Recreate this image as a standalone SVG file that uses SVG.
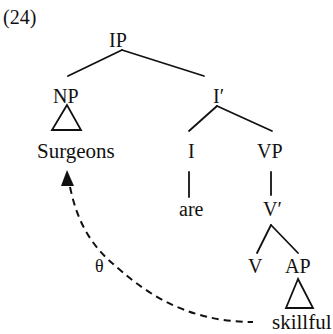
<svg xmlns="http://www.w3.org/2000/svg" width="333" height="334" viewBox="0 0 333 334">
<style>
text{font-family:Liberation Serif, DejaVu Serif, serif;fill:#111;font-size:20px}
.e{stroke:#111;stroke-width:1.8;fill:none;stroke-linecap:round}
.tri{stroke:#111;stroke-width:1.8;fill:none;stroke-linejoin:miter}
.d{stroke:#111;stroke-width:2;fill:none;stroke-dasharray:7 5}
</style>
<rect width="333" height="334" fill="#fff"/>
<text x="3" y="24">(24)</text>
<g id="connectors">
<line class="e" x1="122" y1="50" x2="68" y2="76"/>
<line class="e" x1="122" y1="50" x2="204" y2="76"/>
<line class="e" x1="217" y1="106" x2="189" y2="131"/>
<line class="e" x1="217" y1="106" x2="272" y2="131"/>
<line class="e" x1="189" y1="172" x2="189" y2="197"/>
<line class="e" x1="271" y1="172" x2="271" y2="195"/>
<line class="e" x1="271" y1="225" x2="257" y2="253"/>
<line class="e" x1="271" y1="225" x2="298" y2="253"/>
<path class="d" d="M70,187 C76,215 86,240 112,263 S180,322 253,322"/>
<polygon points="67,170 61,186 74,186" fill="#111"/>
</g>
<g id="IP"><text x="109" y="47">IP</text></g>
<g id="NP"><text x="53" y="103">NP</text><polygon class="tri" points="67,105 52,130 81,130"/></g>
<g id="Surgeons"><text x="37" y="158" style="font-size:21px">Surgeons</text></g>
<g id="Ibar"><text x="213" y="103">I′</text></g>
<g id="I"><text x="188" y="158">I</text></g>
<g id="VP"><text x="257" y="158">VP</text></g>
<g id="are"><text x="179" y="216">are</text></g>
<g id="Vbar"><text x="263" y="216">V′</text></g>
<g id="V"><text x="248" y="273">V</text></g>
<g id="AP"><text x="285" y="273">AP</text><polygon class="tri" points="298,279 286,308 313,308"/></g>
<g id="skillful"><text x="272" y="329" style="font-size:21px">skillful</text></g>
<g id="theta"><text x="95" y="272" style="font-size:18px">θ</text></g>
</svg>
